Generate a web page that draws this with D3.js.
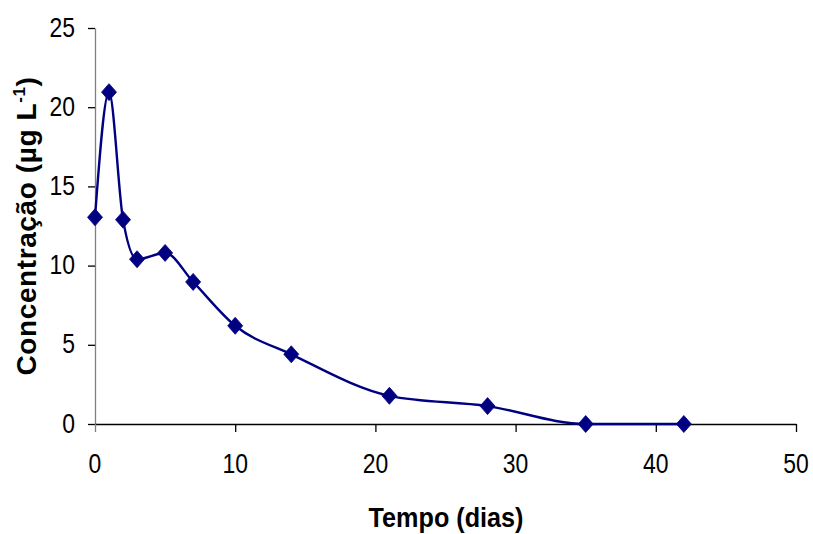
<!DOCTYPE html>
<html>
<head>
<meta charset="utf-8">
<script src="https://cdn.jsdelivr.net/npm/d3@7"></script>
<style>
  html, body { margin: 0; padding: 0; background: #fff; }
  svg { display: block; }
</style>
</head>
<body>
<svg id="chart" width="813" height="534"></svg>
<script>
// ---- data ----
const days = [0, 1, 2, 3, 5, 7, 10, 14, 21, 28, 35, 42];
const concentration = [13.05, 20.95, 12.9, 10.4, 10.8, 8.97, 6.2, 4.4, 1.78, 1.13, 0, 0];
const xTicks = [0, 10, 20, 30, 40, 50];
const yTicks = [0, 5, 10, 15, 20, 25];
const xTitle = "Tempo (dias)";
const yTitleMain = "Concentração (µg L";
const yTitleSup = "-1";
const yTitleEnd = ")";

const svg = d3.select("#chart");
const FONT = "'Liberation Sans', Arial, sans-serif";
const NAVY = "#000080";

const x = d3.scaleLinear().domain([0, 50]).range([95, 796]);
const y = d3.scaleLinear().domain([0, 25]).range([424, 28]);

// y axis
const yAxis = d3.axisLeft(y).tickValues(yTicks).tickSize(7).tickSizeOuter(0).tickFormat("");
const gy = svg.append("g").attr("transform", `translate(${x(0)},0)`).call(yAxis);
gy.select(".domain").attr("stroke", "#808080").attr("stroke-width", 1.3);
gy.selectAll(".tick line").attr("stroke", "#000").attr("stroke-width", 1.3);

// x axis
const xAxis = d3.axisBottom(x).tickValues(xTicks).tickSize(8).tickSizeOuter(0).tickFormat("");
const gx = svg.append("g").attr("transform", `translate(0,${y(0)})`).call(xAxis);
gx.select(".domain").attr("stroke", "#000").attr("stroke-width", 1.3);
gx.selectAll(".tick line").attr("stroke", "#000").attr("stroke-width", 1.3);
gx.selectAll(".tick").filter(d => d === 0).select("line").attr("stroke", "#808080");

// tick labels
svg.append("g").selectAll("text").data(yTicks).join("text")
  .attr("transform", d => `translate(75,${y(d) + 8.5}) scale(0.85,1)`)
  .attr("text-anchor", "end")
  .attr("font-family", FONT).attr("font-size", 27).attr("fill", "#000")
  .text(d => d);

svg.append("g").selectAll("text").data(xTicks).join("text")
  .attr("transform", d => `translate(${x(d)},473) scale(0.85,1)`)
  .attr("text-anchor", "middle")
  .attr("font-family", FONT).attr("font-size", 27).attr("fill", "#000")
  .text(d => d);

// axis titles
svg.append("text")
  .attr("transform", `translate(446,527) scale(0.9,1)`)
  .attr("text-anchor", "middle")
  .attr("font-family", FONT).attr("font-size", 28).attr("font-weight", "bold")
  .text(xTitle);

const yt = svg.append("text")
  .attr("transform", `translate(36,226) rotate(-90)`)
  .attr("text-anchor", "middle")
  .attr("font-family", FONT).attr("font-size", 28).attr("font-weight", "bold")
  .attr("letter-spacing", 0.6);
yt.append("tspan").text(yTitleMain);
yt.append("tspan").attr("font-size", 17).attr("dy", -11).text(yTitleSup);
yt.append("tspan").attr("dy", 11).text(yTitleEnd);

// line
const data = days.map((d, i) => ({ d, c: concentration[i] }));
const line = d3.line().x(p => x(p.d)).y(p => y(p.c)).curve(d3.curveMonotoneX);
svg.append("path").datum(data)
  .attr("d", line)
  .attr("fill", "none").attr("stroke", NAVY).attr("stroke-width", 2.4)
  .attr("stroke-linejoin", "round");

// markers
const diamond = "M0,-8.5L7.5,0L0,8.5L-7.5,0Z";
svg.append("g").selectAll("path").data(data).join("path")
  .attr("transform", p => `translate(${x(p.d)},${y(p.c)})`)
  .attr("d", diamond)
  .attr("fill", NAVY).attr("stroke", NAVY).attr("stroke-width", 0.8);
</script>
</body>
</html>
